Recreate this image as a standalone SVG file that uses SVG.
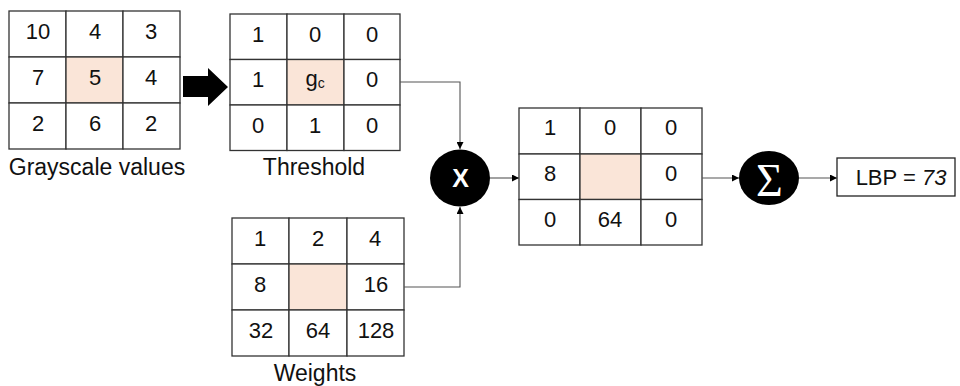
<svg xmlns="http://www.w3.org/2000/svg" width="960" height="386" viewBox="0 0 960 386">
  <style>
    .cell { fill: #ffffff; stroke: #333333; stroke-width: 1.3; }
    .center { fill: #fae5d8; stroke: #333333; stroke-width: 1.3; }
    .num { font-family: "Liberation Sans", Arial, sans-serif; font-size: 22px; fill: #111111; text-anchor: middle; }
    .label { font-family: "Liberation Sans", Arial, sans-serif; font-size: 23px; fill: #111111; text-anchor: middle; }
    .wire { fill: none; stroke: #555555; stroke-width: 1.1; }
    .op { fill: #000000; }
  </style>
  <defs>
    <marker id="tip" viewBox="0 0 10 10" refX="10" refY="5" markerWidth="7" markerHeight="7" orient="auto" markerUnits="userSpaceOnUse">
      <path d="M0,0 L10,5 L0,10 z" fill="#000000"/>
    </marker>
  </defs>

  <!-- Grayscale values grid -->
  <g id="grayscale">
    <rect class="cell" x="9" y="11" width="57" height="46"/>
    <rect class="cell" x="66" y="11" width="57" height="46"/>
    <rect class="cell" x="123" y="11" width="57" height="46"/>
    <rect class="cell" x="9" y="57" width="57" height="46"/>
    <rect class="center" x="66" y="57" width="57" height="46"/>
    <rect class="cell" x="123" y="57" width="57" height="46"/>
    <rect class="cell" x="9" y="103" width="57" height="46"/>
    <rect class="cell" x="66" y="103" width="57" height="46"/>
    <rect class="cell" x="123" y="103" width="57" height="46"/>
    <text class="num" x="38" y="38.5">10</text>
    <text class="num" x="95" y="38.5">4</text>
    <text class="num" x="151" y="38.5">3</text>
    <text class="num" x="38" y="84.5">7</text>
    <text class="num" x="95" y="84.5">5</text>
    <text class="num" x="151" y="84.5">4</text>
    <text class="num" x="38" y="130.5">2</text>
    <text class="num" x="95" y="130.5">6</text>
    <text class="num" x="151" y="130.5">2</text>
    <text class="label" x="97" y="175">Grayscale values</text>
  </g>

  <!-- Block arrow -->
  <g id="block-arrow">
    <path d="M183,76 L208,76 L208,68 L228,87 L208,106 L208,97 L183,97 z" fill="#000000"/>
  </g>

  <!-- Threshold grid -->
  <g id="threshold">
    <rect class="cell" x="230" y="14" width="57" height="45.5"/>
    <rect class="cell" x="287" y="14" width="57" height="45.5"/>
    <rect class="cell" x="344" y="14" width="56" height="45.5"/>
    <rect class="cell" x="230" y="59.5" width="57" height="45.5"/>
    <rect class="center" x="287" y="59.5" width="57" height="45.5"/>
    <rect class="cell" x="344" y="59.5" width="56" height="45.5"/>
    <rect class="cell" x="230" y="105" width="57" height="45.5"/>
    <rect class="cell" x="287" y="105" width="57" height="45.5"/>
    <rect class="cell" x="344" y="105" width="56" height="45.5"/>
    <text class="num" x="258" y="41.5">1</text>
    <text class="num" x="315" y="41.5">0</text>
    <text class="num" x="372" y="41.5">0</text>
    <text class="num" x="258" y="87">1</text>
    <text class="num" x="315" y="86">g<tspan font-size="14" dy="2">c</tspan></text>
    <text class="num" x="372" y="87">0</text>
    <text class="num" x="258" y="132.5">0</text>
    <text class="num" x="315" y="132.5">1</text>
    <text class="num" x="372" y="132.5">0</text>
    <text class="label" x="314" y="175">Threshold</text>
  </g>

  <!-- Weights grid -->
  <g id="weights">
    <rect class="cell" x="232" y="218" width="57" height="46"/>
    <rect class="cell" x="289" y="218" width="58" height="46"/>
    <rect class="cell" x="347" y="218" width="57" height="46"/>
    <rect class="cell" x="232" y="264" width="57" height="46"/>
    <rect class="center" x="289" y="264" width="58" height="46"/>
    <rect class="cell" x="347" y="264" width="57" height="46"/>
    <rect class="cell" x="232" y="310" width="57" height="46"/>
    <rect class="cell" x="289" y="310" width="58" height="46"/>
    <rect class="cell" x="347" y="310" width="57" height="46"/>
    <text class="num" x="260" y="245.5">1</text>
    <text class="num" x="318" y="245.5">2</text>
    <text class="num" x="375" y="245.5">4</text>
    <text class="num" x="260" y="291.5">8</text>
    <text class="num" x="376" y="291.5">16</text>
    <text class="num" x="261" y="337.5">32</text>
    <text class="num" x="318" y="337.5">64</text>
    <text class="num" x="376" y="337.5">128</text>
    <text class="label" x="315" y="381">Weights</text>
  </g>

  <!-- Multiply operator -->
  <g id="multiply">
    <ellipse class="op" cx="460" cy="178" rx="30" ry="28.5"/>
    <text x="460.5" y="187" font-family="Liberation Sans, Arial, sans-serif" font-size="25" font-weight="bold" fill="#ffffff" text-anchor="middle">X</text>
  </g>

  <!-- Result grid -->
  <g id="result">
    <rect class="cell" x="519" y="108" width="61" height="46"/>
    <rect class="cell" x="580" y="108" width="61" height="46"/>
    <rect class="cell" x="641" y="108" width="61" height="46"/>
    <rect class="cell" x="519" y="154" width="61" height="45.5"/>
    <rect class="center" x="580" y="154" width="61" height="45.5"/>
    <rect class="cell" x="641" y="154" width="61" height="45.5"/>
    <rect class="cell" x="519" y="199.5" width="61" height="45.5"/>
    <rect class="cell" x="580" y="199.5" width="61" height="45.5"/>
    <rect class="cell" x="641" y="199.5" width="61" height="45.5"/>
    <text class="num" x="550" y="135">1</text>
    <text class="num" x="610" y="135">0</text>
    <text class="num" x="671" y="135">0</text>
    <text class="num" x="550" y="181">8</text>
    <text class="num" x="671" y="181">0</text>
    <text class="num" x="550" y="226.5">0</text>
    <text class="num" x="610" y="226.5">64</text>
    <text class="num" x="671" y="226.5">0</text>
  </g>

  <!-- Sum operator -->
  <g id="sum">
    <ellipse class="op" cx="769" cy="178" rx="30" ry="27"/>
    <text x="769.5" y="196" font-family="Liberation Serif, Times New Roman, serif" font-size="46" fill="#ffffff" text-anchor="middle">Σ</text>
  </g>

  <!-- Output box -->
  <g id="lbp">
    <rect x="837" y="158" width="118" height="38" fill="#ffffff" stroke="#222222" stroke-width="1.3"/>
    <text x="901" y="185" font-family="Liberation Sans, Arial, sans-serif" font-size="22" fill="#111111" text-anchor="middle">LBP = <tspan font-style="italic">73</tspan></text>
  </g>

  <!-- Connectors -->
  <g id="connectors">
    <path class="wire" d="M400,82 L460,82 L460,149" marker-end="url(#tip)"/>
    <path class="wire" d="M404,287 L460,287 L460,207" marker-end="url(#tip)"/>
    <path class="wire" d="M490,178 L519,178" marker-end="url(#tip)"/>
    <path class="wire" d="M702,178 L739,178" marker-end="url(#tip)"/>
    <path class="wire" d="M799,178 L837,178" marker-end="url(#tip)"/>
  </g>
</svg>
